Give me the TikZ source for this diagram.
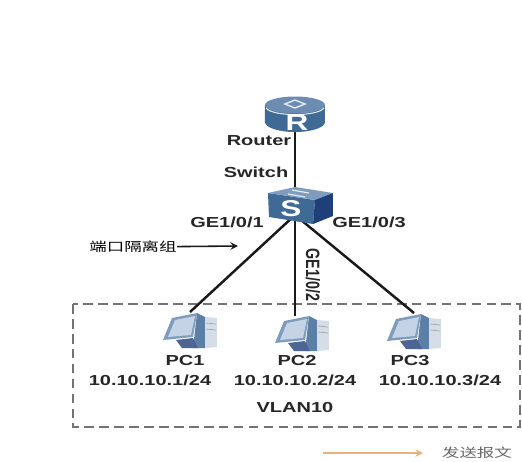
\documentclass[tikz,border=0pt]{standalone}
\usepackage{fontspec}
\setmainfont{Liberation Sans}[FakeStretch=1.38]
\newfontfamily\estrechafont{Liberation Sans}[FakeStretch=.74]
\newfontfamily\cjk{Noto Sans CJK SC}[FakeStretch=1.4]
\definecolor{azulicono}{HTML}{3F6A95}
\definecolor{azuloscuro}{HTML}{1F3F78}
\definecolor{azulclaro}{HTML}{7F9CBD}
\definecolor{pantalla}{HTML}{C4D4E6}
\definecolor{torre}{HTML}{D5DEE8}
\definecolor{naranja}{HTML}{E8B27C}
\tikzset{
  etiqueta/.style={font=\fontsize{8.25}{10}\selectfont\bfseries, text=black!85, inner sep=0pt},
  letra/.style={font=\fontsize{13}{14}\selectfont\bfseries, text=white, inner sep=0pt},
  chino/.style={font=\fontsize{7.1}{9}\selectfont\cjk, inner sep=0pt},
  enlace/.style={line width=1.4pt, black!90},
  caja/.style={minimum width=#1, inner sep=0pt, outer sep=0pt},
  pics/routericon/.style={code={
    \fill[azulicono] (-30,-10) -- (-30,7) arc[start angle=180, end angle=0, x radius=30, y radius=10] -- (30,-10) -- cycle;
    \fill[azulclaro!70!azulicono] (0,-10) ellipse[x radius=30, y radius=8.5];
    \draw[white!85!azulicono, line width=.6pt] (-29,-7) arc[start angle=170, end angle=10, x radius=29.5, y radius=8];
    \draw[white!85!azulicono, line width=.8pt] (-10,-11) -- (0,-15) -- (10,-11) -- (0,-7) -- cycle;
    \node[letra] at (2,8) {R};
  }},
  pics/switchicon/.style={code={
    \fill[azulicono] (-32,-13) -- (15,-6) -- (13,18) -- (-31,11) -- cycle;
    \fill[azulclaro] (-32,-13) -- (-5,-19) -- (33,-13) -- (15,-6) -- cycle;
    \fill[azuloscuro] (15,-6) -- (33,-13) -- (33,10) -- (13,18) -- cycle;
    \draw[white!85!azulicono, line width=.7pt] (-12,-12) -- (5,-9) (-8,-16) -- (9,-13);
    \node[letra] at (-9,3) {S};
  }},
  pics/pcicon/.style={code={
    \fill[torre] (15,-13) -- (27,-12) -- (27,17) -- (15,18) -- cycle;
    \draw[black!35, line width=.4pt] (16,-7) -- (26,-6) (16,-1) -- (26,0);
    \fill[azulicono!85] (7,-17) -- (15,-13) -- (15,18) -- (3,18) -- cycle;
    \fill[azuloscuro!80] (-14,10) -- (3,8) -- (8,18) -- (-8,18) -- cycle;
    \fill[azulclaro] (-18,-12) -- (7,-17) -- (3,7) -- (-27,10) -- cycle;
    \fill[pantalla] (-15,-10) -- (5,-14) -- (1,5) -- (-22,7) -- cycle;
  }}
}
\begin{document}
\begin{tikzpicture}[x=0.02cm, y=-0.02cm, >=stealth]
  \useasboundingbox (0,0) rectangle (522,461);

  % Zona de la VLAN
  \draw[black!55, line width=.7pt, dash pattern=on 5.5pt off 3pt] (73,304) rectangle (520,427);

  % Nodos de los equipos
  \node[caja=1.2cm, minimum height=0.7cm] (router) at (295,115) {};
  \node[caja=1.3cm, minimum height=0.74cm] (switch) at (300,206) {};
  \node[caja=1.1cm, minimum height=0.72cm] (pc1) at (190,330) {};
  \node[caja=1.1cm, minimum height=0.72cm] (pc2) at (302,333) {};
  \node[caja=1.1cm, minimum height=0.72cm] (pc3) at (414,331) {};
  \coordinate (puerto) at (295,215);
  \coordinate (entradapc) at (295,316);

  % Enlaces
  \draw[enlace] (router.center) -- (puerto);
  \draw[enlace] (puerto) -- (pc1.north);
  \draw[enlace] (puerto) -- (entradapc);
  \draw[enlace] (puerto) -- (pc3.north);

  % Iconos encima de los enlaces
  \pic at (router) {routericon};
  \pic at (switch) {switchicon};
  \pic at (pc1) {pcicon};
  \pic at (pc2) {pcicon};
  \pic at (pc3) {pcicon};

  % Etiquetas de equipos y puertos
  \node[etiqueta] (lrouter) at (259,141) {Router};
  \node[etiqueta] (lswitch) at (256,172) {Switch};
  \node[etiqueta] (ge1) at (227,222) {GE1/0/1};
  \node[etiqueta] (ge3) at (369,222) {GE1/0/3};
  \node[etiqueta, font=\fontsize{11}{12}\selectfont\estrechafont\bfseries, rotate=-90] (ge2) at (313,275) {GE1/0/2};
  \node[etiqueta] (lpc1) at (185,361) {PC1};
  \node[etiqueta] (lpc2) at (297,361) {PC2};
  \node[etiqueta] (lpc3) at (410,361) {PC3};
  \node[etiqueta] (ip1) at (150,380) {10.10.10.1/24};
  \node[etiqueta] (ip2) at (295,380) {10.10.10.2/24};
  \node[etiqueta] (ip3) at (440,380) {10.10.10.3/24};
  \node[etiqueta] (vlan) at (295,408) {VLAN10};

  % Grupo de aislamiento y leyenda
  \node[chino] (grupo) at (133,247) {端口隔离组};
  \coordinate (finGrupo) at (238,246);
  \draw[->, black!90, line width=.9pt] (grupo) -- (finGrupo);
  \node[chino, text=black!60] (leyenda) at (477,453) {发送报文};
  \coordinate (iniLeyenda) at (323,453);
  \coordinate (finLeyenda) at (423,453);
  \draw[->, naranja, line width=.9pt] (iniLeyenda) -- (finLeyenda);
\end{tikzpicture}
\end{document}
